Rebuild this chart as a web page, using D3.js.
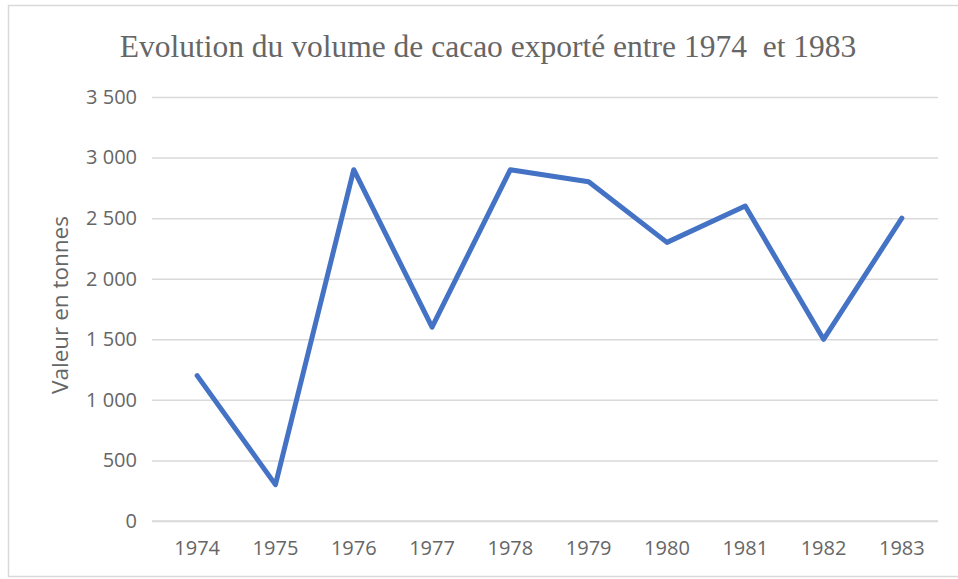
<!DOCTYPE html>
<html><head><meta charset="utf-8">
<script src="https://cdn.jsdelivr.net/npm/d3@7"></script>
<style>body{margin:0;background:#fff}svg{display:block}</style>
</head><body><svg id="c" width="958" height="579"></svg>
<script>
const years = ["1974","1975","1976","1977","1978","1979","1980","1981","1982","1983"];
const volumes = [1200, 300, 2900, 1600, 2900, 2800, 2300, 2600, 1500, 2500];
const yTicks = [0, 500, 1000, 1500, 2000, 2500, 3000, 3500];
const titleText = "Evolution du volume de cacao exporté entre 1974  et 1983";
const yLabel = "Valeur en tonnes";

const svg = d3.select("#c");
svg.append("rect").attr("x",8.5).attr("y",5.5).attr("width",960).attr("height",571)
  .attr("fill","#fff").attr("stroke","#d9d9d9").attr("stroke-width",1.5);

const x = d3.scaleBand().domain(years).range([158, 941]);
const y = d3.scaleLinear().domain([0, 3500]).range([521, 97]);
const fmt = v => d3.format(",")(v).replace(/,/g, " ");

const gy = svg.append("g").attr("transform","translate(152,0)")
  .call(d3.axisLeft(y).tickValues(yTicks).tickSize(-786).tickFormat(fmt).tickPadding(15));
gy.select(".domain").remove();
gy.selectAll("line").attr("stroke","#d9d9d9").attr("stroke-width",1.5);
gy.selectAll("text").attr("fill","#666").attr("font-family","'Open Sans', sans-serif").attr("font-size",20);

const gx = svg.append("g").attr("transform","translate(0,521)")
  .call(d3.axisBottom(x).tickSize(0).tickPadding(20));
gx.select(".domain").attr("stroke","#d9d9d9").attr("stroke-width",1.5).attr("d","M152,0H938");
gx.selectAll("text").attr("fill","#666").attr("font-family","'Open Sans', sans-serif").attr("font-size",20);

const line = d3.line().x((d,i)=>x(years[i])+x.bandwidth()/2).y(d=>y(d));
svg.append("path").datum(volumes).attr("d",line).attr("fill","none")
  .attr("stroke","#4472C4").attr("stroke-width",5).attr("stroke-linejoin","round").attr("stroke-linecap","round");

svg.append("text").attr("x",488).attr("y",57).attr("text-anchor","middle")
  .attr("font-family","'Liberation Serif', serif").attr("font-size",31.5).attr("fill","#666")
  .style("white-space","pre").text(titleText);

svg.append("text").attr("transform","translate(68,305) rotate(-90)").attr("text-anchor","middle")
  .attr("font-family","'Open Sans', sans-serif").attr("font-size",22.5).attr("fill","#666").text(yLabel);
</script></body></html>
